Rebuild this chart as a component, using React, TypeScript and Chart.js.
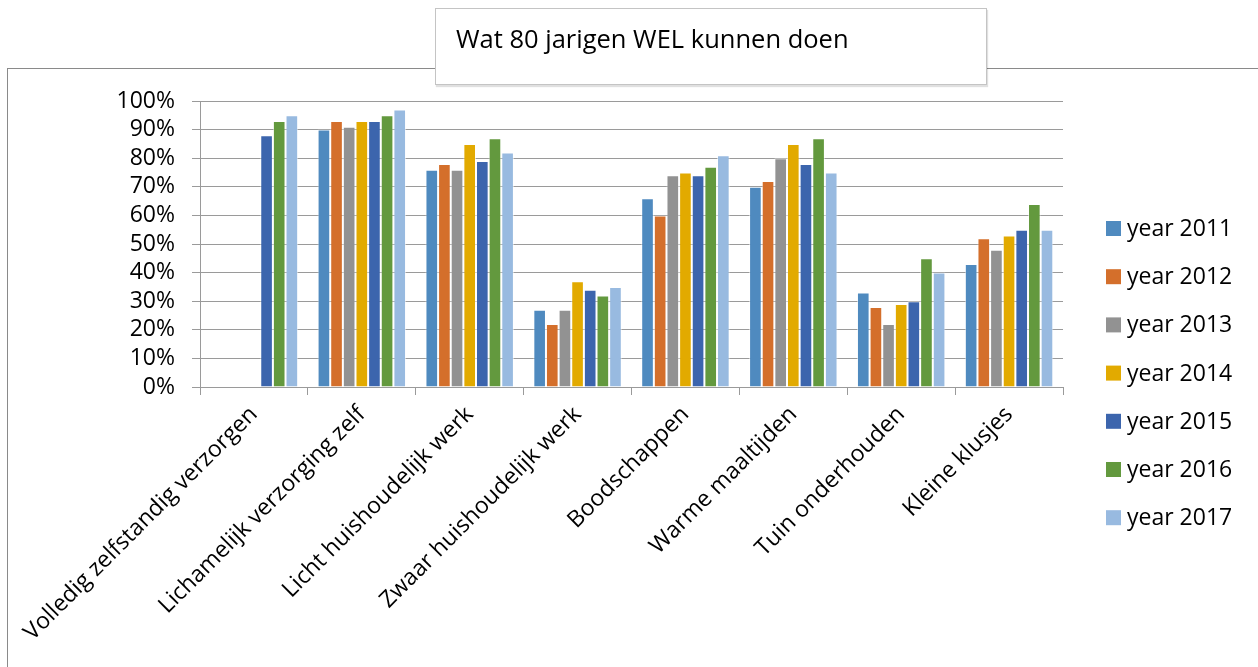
import React, { useEffect, useRef } from "react";
import { Chart, registerables } from "chart.js";

Chart.register(...registerables);

const titleText = "Wat 80 jarigen WEL kunnen doen";

const categories = [
  "Volledig zelfstandig verzorgen",
  "Lichamelijk verzorging zelf",
  "Licht huishoudelijk werk",
  "Zwaar huishoudelijk werk",
  "Boodschappen",
  "Warme maaltijden",
  "Tuin onderhouden",
  "Kleine klusjes",
];

const seriesLabels = [
  "year 2011",
  "year 2012",
  "year 2013",
  "year 2014",
  "year 2015",
  "year 2016",
  "year 2017",
];

const year2011 = [null, 90, 76, 27, 66, 70, 33, 43];
const year2012 = [null, 93, 78, 22, 60, 72, 28, 52];
const year2013 = [null, 91, 76, 27, 74, 80, 22, 48];
const year2014 = [null, 93, 85, 37, 75, 85, 29, 53];
const year2015 = [88, 93, 79, 34, 74, 78, 30, 55];
const year2016 = [93, 95, 87, 32, 77, 87, 45, 64];
const year2017 = [95, 97, 82, 35, 81, 75, 40, 55];

const seriesColors = [
  "#4f8abf",
  "#d46f2b",
  "#929292",
  "#e2aa00",
  "#3c65ad",
  "#63993e",
  "#98bae0",
];

const yMin = 0;
const yMax = 100;
const yStep = 10;

const FONT = "'Open Sans', 'DejaVu Sans', sans-serif";

const sideLegend = {
  id: "sideLegend",
  afterDraw(chart: any) {
    const { ctx, chartArea } = chart;
    const datasets = chart.data.datasets;
    const step = 48.2;
    const firstCenter = chartArea.top + 127.5;
    const boxX = chartArea.right + 43;
    const box = 15;
    ctx.save();
    ctx.font = `23px ${FONT}`;
    ctx.textBaseline = "middle";
    ctx.textAlign = "left";
    datasets.forEach((ds: any, i: number) => {
      const cy = firstCenter + i * step;
      ctx.fillStyle = ds.backgroundColor;
      ctx.fillRect(boxX, cy - box / 2, box, box);
      ctx.fillStyle = "#000";
      ctx.fillText(ds.label, boxX + 21, cy + 1);
    });
    ctx.restore();
  },
};

export default function App() {
  const canvasRef = useRef<HTMLCanvasElement | null>(null);

  useEffect(() => {
    const canvas = canvasRef.current;
    if (!canvas) return;
    const series = [year2011, year2012, year2013, year2014, year2015, year2016, year2017];
    const chart = new Chart(canvas, {
      type: "bar",
      data: {
        labels: categories,
        datasets: series.map((values, i) => ({
          label: seriesLabels[i],
          data: values,
          backgroundColor: seriesColors[i],
          borderColor: "rgba(255,255,255,0.55)",
          borderWidth: 1,
          categoryPercentage: 0.82,
          barPercentage: 1,
        })),
      },
      options: {
        responsive: false,
        animation: false,
        devicePixelRatio: 1,
        layout: { padding: { top: 101, right: 195, bottom: 0, left: 0 } },
        plugins: {
          legend: { display: false },
          title: { display: false },
          tooltip: { enabled: false },
        },
        scales: {
          x: {
            grid: {
              display: true,
              offset: true,
              drawOnChartArea: false,
              drawTicks: true,
              tickLength: 8,
              color: "#9a9a9a",
              lineWidth: 1,
            },
            border: { display: true, color: "#9a9a9a", width: 1 },
            ticks: {
              minRotation: 45,
              maxRotation: 45,
              autoSkip: false,
              padding: 6,
              color: "#000",
              font: { family: FONT, size: 23 },
            },
            afterFit: (scale: any) => {
              scale.height = 280;
            },
          },
          y: {
            min: yMin,
            max: yMax,
            ticks: {
              stepSize: yStep,
              autoSkip: false,
              padding: 17,
              color: "#000",
              font: { family: FONT, size: 23 },
              callback: (v: any) => `${v}%`,
            },
            grid: {
              color: "#9a9a9a",
              lineWidth: 1,
              drawTicks: true,
              tickLength: 8,
            },
            border: { display: true, color: "#9a9a9a", width: 1 },
            afterFit: (scale: any) => {
              scale.width = 200;
            },
          },
        },
      },
      plugins: [sideLegend],
    });
    return () => chart.destroy();
  }, []);

  return (
    <div
      style={{
        position: "fixed",
        left: 0,
        top: 0,
        width: 1258,
        height: 667,
        overflow: "hidden",
        background: "#fff",
      }}
    >
      <div
        style={{
          position: "absolute",
          left: 7,
          top: 68,
          width: 1270,
          height: 640,
          border: "1px solid #8a8a8a",
          boxSizing: "border-box",
        }}
      />
      <canvas
        ref={canvasRef}
        width={1258}
        height={667}
        style={{ position: "absolute", left: 0, top: 0, width: 1258, height: 667 }}
      />
      <div
        style={{
          position: "absolute",
          left: 435,
          top: 8,
          width: 552,
          height: 77,
          boxSizing: "border-box",
          border: "1px solid #c4c4c4",
          boxShadow: "1px 2px 1px rgba(0,0,0,0.12)",
          background: "#fff",
          fontFamily: FONT,
          fontSize: 25.5,
          color: "#000",
          paddingLeft: 20,
          paddingTop: 11,
          lineHeight: "36px",
        }}
      >
        {titleText}
      </div>
    </div>
  );
}
